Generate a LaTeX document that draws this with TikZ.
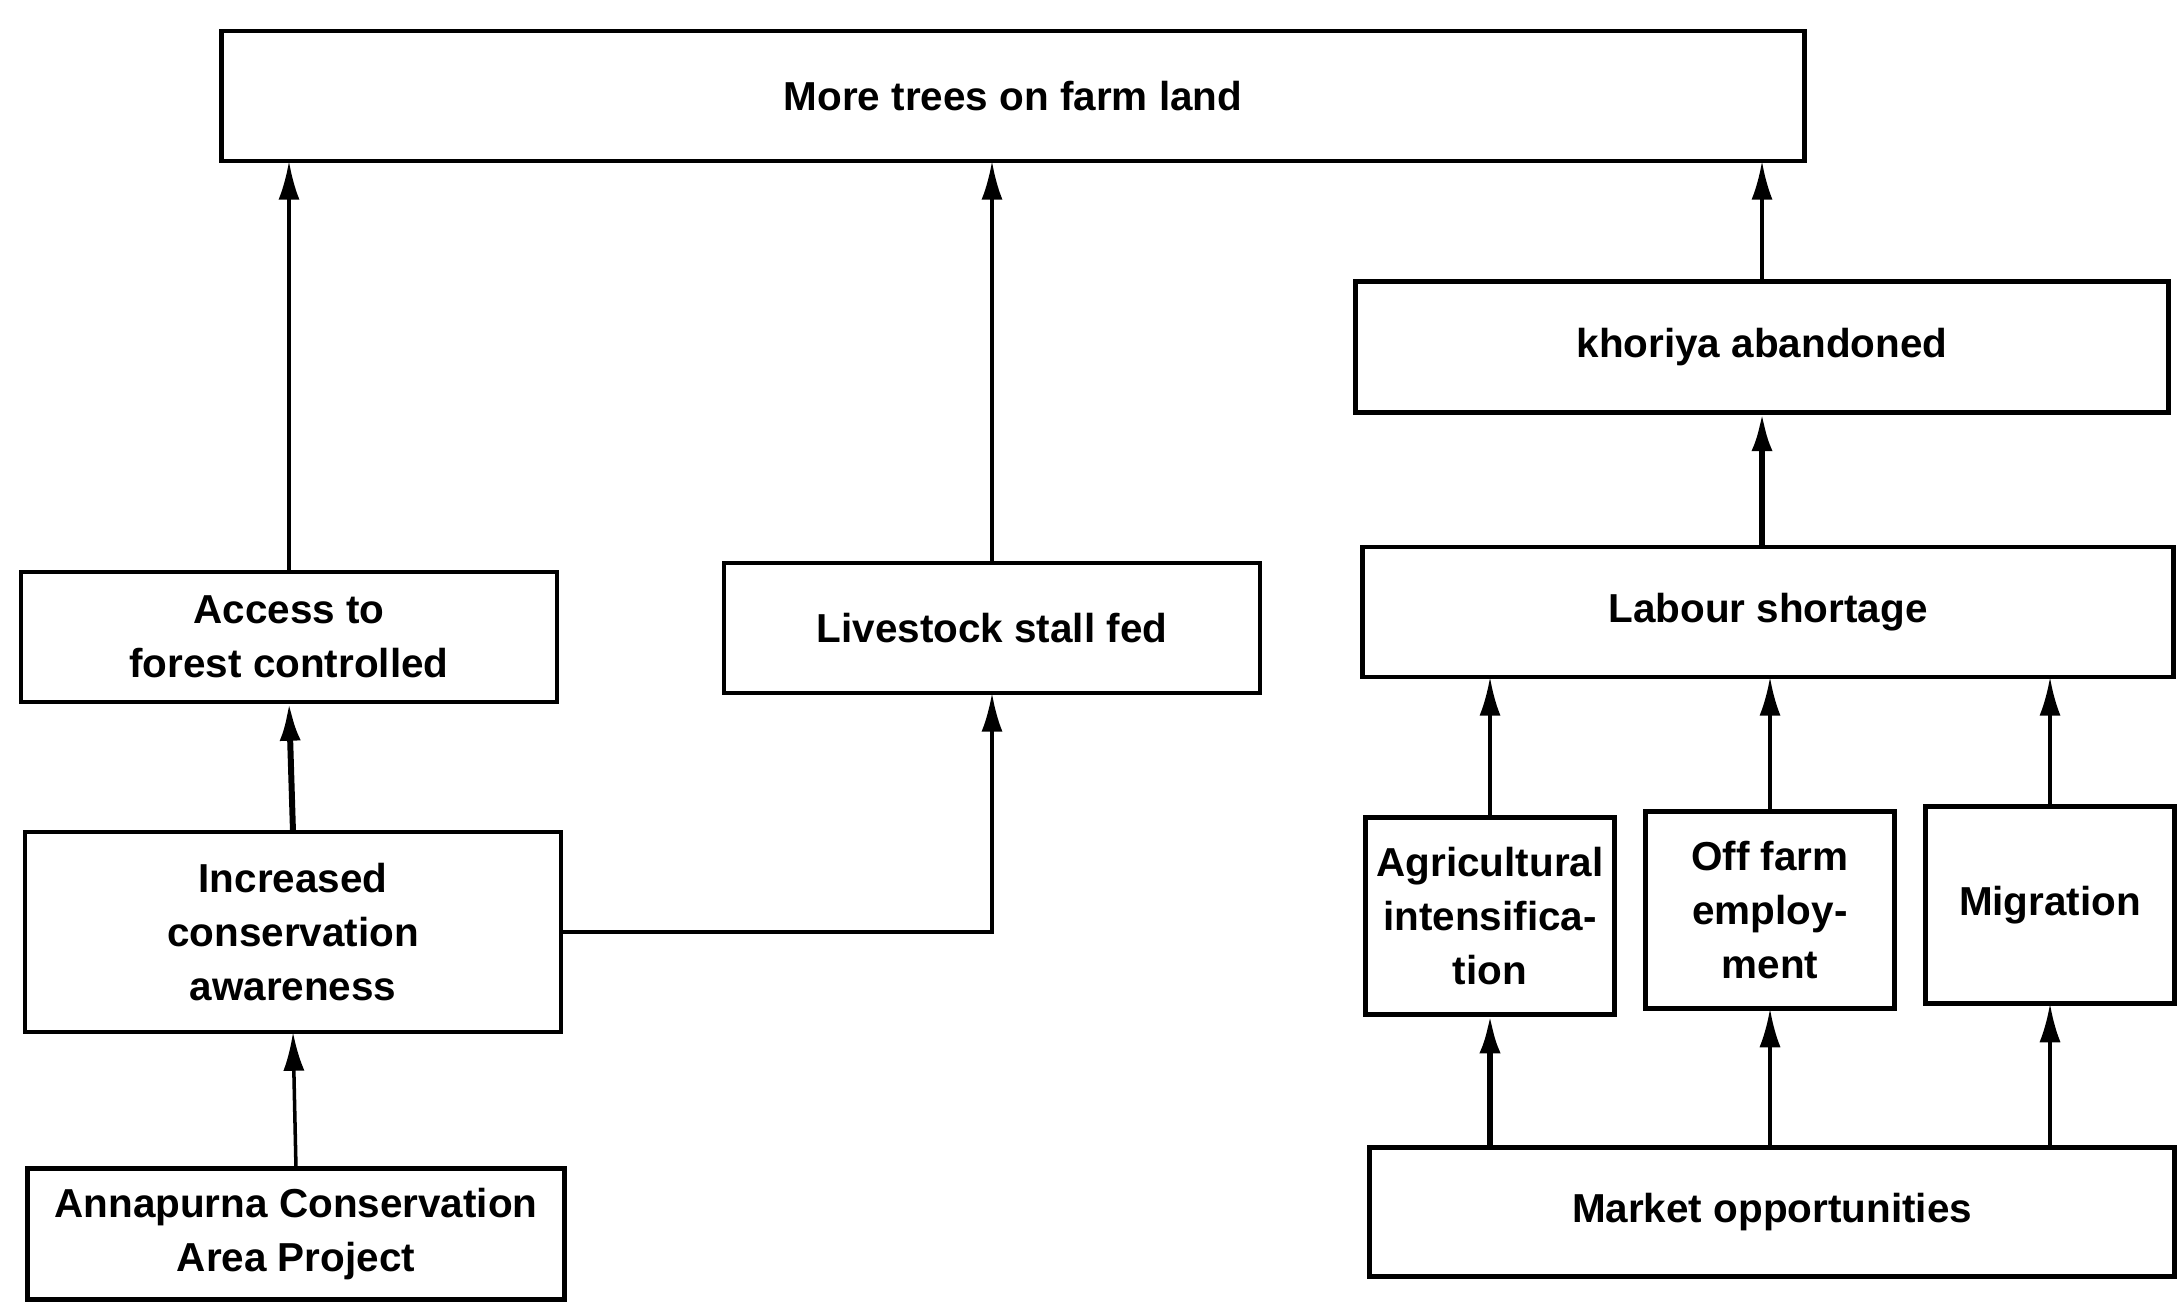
\documentclass[tikz,border=0pt]{standalone}
\usepackage{fontspec}
\setmainfont{Liberation Sans}
\usetikzlibrary{arrows.meta}
\begin{document}
\begin{tikzpicture}[x=0.01cm,y=-0.01cm,
    box/.style={draw, line width=1.3pt, inner sep=0pt, outer sep=0pt, align=center, font=\bfseries\fontsize{11.5}{15.4}\selectfont},
    wide/.style={box, minimum width=5.36cm, minimum height=1.3cm},
    narrow/.style={box, minimum width=2.49cm, minimum height=1.97cm},
    link/.style={line width=1pt, -{Latex[length=11pt,width=6pt]}},
    boldlink/.style={link, line width=1.7pt}]
    \useasboundingbox (0,0) rectangle (2179,1303);
    % top and right column
    \node[box, minimum width=15.82cm, minimum height=1.3cm] (trees) at (1013,96) {More trees on farm land};
    \node[box, minimum width=8.13cm, minimum height=1.31cm] (khoriya) at (1762,347) {khoriya abandoned};
    \node[box, minimum width=8.11cm, minimum height=1.3cm] (labour) at (1768,612) {Labour shortage};
    \node[narrow] (agri) at (1490,916) {Agricultural\\intensifica-\\tion};
    \node[narrow] (offfarm) at (1770,910) {Off farm\\employ-\\ment};
    \node[narrow] (migr) at (2050,905) {Migration};
    \node[box, minimum width=8.05cm, minimum height=1.29cm] (market) at (1772,1212) {Market opportunities};
    % left part
    \node[wide] (access) at (289,637) {Access to\\forest controlled};
    \node[wide] (stall) at (992,628) {Livestock stall fed};
    \node[wide, minimum height=2cm] (aware) at (293,932) {Increased\\conservation\\awareness};
    \node[wide, minimum width=5.37cm, minimum height=1.31cm] (acap) at (296,1234) {Annapurna Conservation\\Area Project};
    % connectors
    \draw[link] (access.north) -- (trees.south -| access.north);
    \draw[link] (stall.north) -- (trees.south -| stall.north);
    \draw[link] (khoriya.north) -- (trees.south -| khoriya.north);
    \draw[boldlink] (labour.north -| khoriya.south) -- (khoriya.south);
    \draw[boldlink] (aware.north) -- (access.south);
    \draw[link] (acap.north) -- (aware.south);
    \draw[link] (aware.east) -| (stall.south);
    \draw[link] (agri.north) -- (labour.south -| agri.north);
    \draw[link] (offfarm.north) -- (labour.south -| offfarm.north);
    \draw[link] (migr.north) -- (labour.south -| migr.north);
    \draw[boldlink] (market.north -| agri.south) -- (agri.south);
    \draw[link] (market.north -| offfarm.south) -- (offfarm.south);
    \draw[link] (market.north -| migr.south) -- (migr.south);
\end{tikzpicture}
\end{document}
